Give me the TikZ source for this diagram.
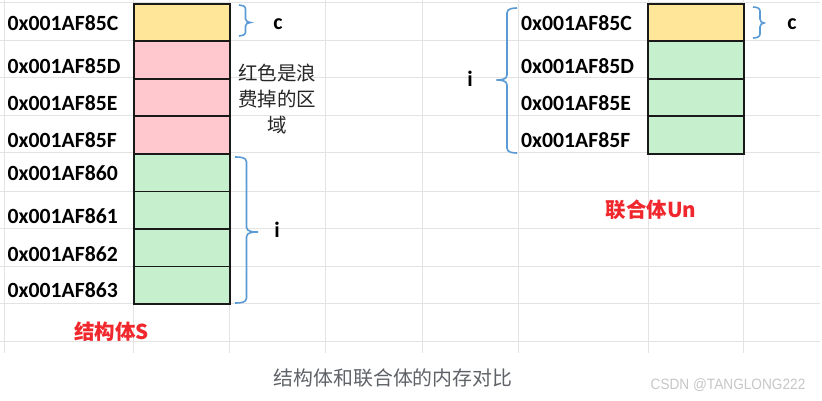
\documentclass[tikz,border=0pt]{standalone}
\usepackage{fontspec}
\setmainfont{Carlito}
\newfontfamily\cjk{Noto Sans CJK SC}
\newfontfamily\wmfont{Liberation Sans}
\definecolor{gridc}{HTML}{E3E3E3}
\definecolor{cyellow}{HTML}{FFE699}
\definecolor{cpink}{HTML}{FFC7CE}
\definecolor{cgreen}{HTML}{C6EFCE}
\definecolor{bracec}{HTML}{5B9BD5}
\definecolor{redlab}{HTML}{F0282D}
\definecolor{capc}{HTML}{5F6368}
\begin{document}
\begin{tikzpicture}[x=1pt,y=-1pt,
  gridline/.style={draw=gridc,line width=1pt},
  cell/.style={draw=black!90,line width=1.6pt,minimum width=96pt,minimum height=37.5pt,inner sep=0pt,anchor=north west},
  hex/.style={font=\fontsize{21.7}{24}\selectfont\bfseries,anchor=base west,inner sep=0pt},
  vlab/.style={font=\fontsize{22}{24}\selectfont\bfseries,anchor=base,inner sep=0pt},
  bracel/.style={draw=bracec,line width=1.6pt},
  redtitle/.style={font=\cjk\fontsize{20.5}{22}\selectfont\bfseries,text=redlab,inner sep=0pt},
]
\useasboundingbox (0,0) rectangle (822,401);
\fill[white] (0,0) rectangle (822,401);
% grid
\foreach \y in {3,41,78,116,153,191,228,266,303,341} \draw[gridline] (0,\y) -- (820,\y);
\foreach \x in {4,133,229,325,422,518,648,743} \draw[gridline] (\x,0) -- (\x,353);
% struct cells
\node[cell,fill=cyellow] (s1) at (133,3) {};
\node[cell,fill=cpink] (s2) at (133,40.5) {};
\node[cell,fill=cpink] (s3) at (133,78) {};
\node[cell,fill=cpink] (s4) at (133,115.5) {};
\node[cell,fill=cgreen] (s5) at (133,153) {};
\node[cell,fill=cgreen] (s6) at (133,190.5) {};
\node[cell,fill=cgreen] (s7) at (133,228) {};
\node[cell,fill=cgreen] (s8) at (133,265.5) {};
% union cells
\node[cell,fill=cyellow] (u1) at (647,3) {};
\node[cell,fill=cgreen] (u2) at (647,40.5) {};
\node[cell,fill=cgreen] (u3) at (647,78) {};
\node[cell,fill=cgreen] (u4) at (647,115.5) {};
% struct addresses
\node[hex] (a1) at (7.5,30.7) {0x001AF85C};
\node[hex] (a2) at (7.5,73.5) {0x001AF85D};
\node[hex] (a3) at (7.5,111) {0x001AF85E};
\node[hex] (a4) at (7.5,147.7) {0x001AF85F};
\node[hex] (a5) at (7.5,180.3) {0x001AF860};
\node[hex] (a6) at (7.5,223.3) {0x001AF861};
\node[hex] (a7) at (7.5,261) {0x001AF862};
\node[hex] (a8) at (7.5,297.7) {0x001AF863};
% union addresses
\node[hex] (b1) at (521,30.3) {0x001AF85C};
\node[hex] (b2) at (521,73.3) {0x001AF85D};
\node[hex] (b3) at (521,111) {0x001AF85E};
\node[hex] (b4) at (521,148) {0x001AF85F};
% braces struct
\draw[bracel] (239,5) to[out=0,in=90] (245.5,9) -- (245.5,19) to[out=270,in=180] (250.5,22.5) to[out=180,in=90] (245.5,26) -- (245.5,32) to[out=270,in=0] (239,36);
\draw[bracel] (235,157) to[out=0,in=90] (246.5,162) -- (246.5,227) to[out=270,in=180] (258,232) to[out=180,in=90] (246.5,237) -- (246.5,298) to[out=270,in=0] (235,303);
% braces union
\draw[bracel] (753,7) to[out=0,in=90] (760,11) -- (760,19) to[out=270,in=180] (764,23) to[out=180,in=90] (760,27) -- (760,34) to[out=270,in=0] (753,38);
\draw[bracel] (517,8) to[out=180,in=90] (507,13) -- (507,75) to[out=270,in=0] (496.5,80) to[out=0,in=90] (507,85) -- (507,148) to[out=270,in=180] (517,153);
% brace labels
\node[vlab] (sc) at (278,30) {c};
\node[vlab] (si) at (277,237) {i};
\node[vlab] (uc) at (792,30) {c};
\node[vlab] (ui) at (470,87) {i};
% waste note
\node[font=\cjk\fontsize{19.5}{26}\selectfont,text=black!85,align=center,inner sep=0pt] (waste) at (277,99) {红色是浪\\费掉的区\\域};
% titles
\node[redtitle] (st) at (111.5,332) {结构体S};
\node[redtitle] (ut) at (651,210) {联合体Un};
\node[font=\cjk\fontsize{19.9}{22}\selectfont,text=capc,inner sep=0pt] (cap) at (393,378) {结构体和联合体的内存对比};
\node[font=\wmfont\fontsize{15}{16}\selectfont,text=black!22,inner sep=0pt,xscale=0.91] (wm) at (728,385) {CSDN @TANGLONG222};
\end{tikzpicture}
\end{document}
